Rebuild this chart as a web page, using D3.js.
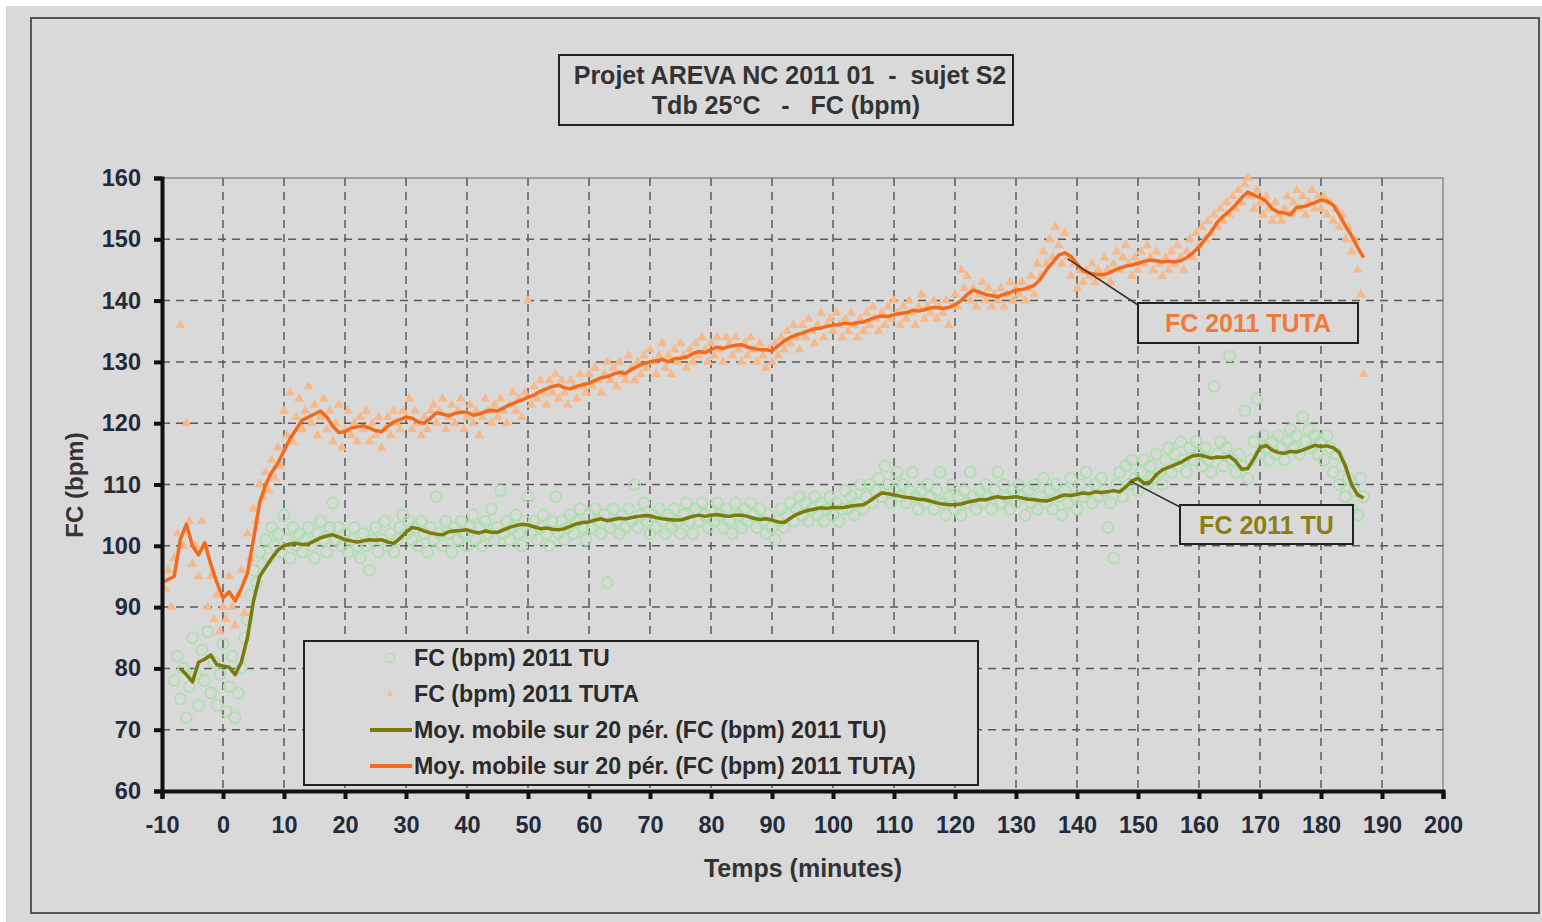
<!DOCTYPE html>
<html>
<head>
<meta charset="utf-8">
<script src="https://cdn.jsdelivr.net/npm/d3@7"></script>
<style>
  html, body { margin: 0; padding: 0; background: #fff; }
  svg { display: block; font-family: "Liberation Sans", Arial, sans-serif; font-weight: bold; }
</style>
</head>
<body>
<svg id="chart" width="1542" height="922"></svg>
<script>
// --- data ---
const xTicks = [-10, 0, 10, 20, 30, 40, 50, 60, 70, 80, 90, 100, 110, 120, 130, 140, 150, 160, 170, 180, 190, 200];
const yTicks = [60, 70, 80, 90, 100, 110, 120, 130, 140, 150, 160];

// moving average TUTA, one value per minute starting at t = -10
const maTutaStart = -10;
const maTuta = [94, 94.5, 95, 101, 103.5, 100, 98.5, 100.5, 97, 94,
  91.5, 92.5, 91, 93, 95.5, 101, 107, 110, 112, 113.5,
  115.5, 117.5, 119, 120.5, 121, 121.5, 122, 121, 119.5, 118.5,
  118.6, 119.2, 119.4, 119.6, 119.2, 118.8, 118.6, 119.5, 120.2, 120.6,
  121, 120.8, 120.2, 120, 120.8, 121.7, 121.5, 121.2, 121.6, 121.8,
  121.8, 121.3, 121.5, 121.9, 122.1, 122, 122.5, 123, 123.4, 123.8,
  124.2, 124.6, 125.2, 125.6, 126, 126.2, 125.8, 125.6, 126, 126.3,
  126.5, 127, 127.4, 127.6, 128, 128.3, 128.1, 128.8, 129.3, 129.7,
  130, 130.2, 130.4, 130, 130.5, 130.6, 130.8, 131.3, 131.7, 131.5,
  132, 132.4, 132.2, 132.5, 132.7, 132.8, 132.4, 132.2, 132, 132,
  131.8, 132.6, 133.4, 134, 134.4, 134.7, 135.1, 135.4, 135.5, 135.8,
  136, 136.1, 136.3, 136.2, 136.4, 136.5, 136.9, 137.3, 137.5, 137.4,
  137.7, 137.9, 138, 138.4, 138.3, 138.5, 138.8, 138.9, 138.7, 138.9,
  139.3, 140, 141, 141.7, 141.4, 141, 140.8, 140.6, 141, 141.3,
  141.7, 141.8, 142.1, 142.5, 143.5, 145, 146.2, 147.4, 147.8, 147.2,
  146, 144.8, 144.5, 144.3, 144.2, 144.4, 144.9, 145.3, 145.6, 145.8,
  146.1, 146.4, 146.6, 146.5, 146.3, 146.4, 146.3, 146.5, 147, 147.8,
  148.7, 150, 151.2, 152.8, 153.8, 154.6, 155.6, 156.8, 157.7, 157.2,
  156.8, 156.2, 155, 154.4, 154.3, 154, 155.2, 155.3, 155.6, 156,
  156.4, 156.2, 155.6, 154, 152.2, 150.6, 148.7, 147];

// moving average TU, one value per minute starting at t = -7
const maTuStart = -7;
const maTu = [80, 79, 77.8, 81, 81.5, 82.2, 80.6, 80.4, 80.2, 79,
  81, 85, 91, 95, 96.5, 98, 99.3, 100, 100.3, 100.4,
  100.2, 100.3, 100.8, 101.3, 101.6, 101.8, 101.4, 101, 100.8, 100.6,
  100.8, 101, 100.9, 101, 100.6, 100.4, 101.2, 102.2, 103, 102.8,
  102.4, 102.1, 101.9, 101.8, 102.3, 102.4, 102.5, 102.6, 102.3, 102.1,
  102.4, 102.2, 102.2, 102.6, 103, 103.3, 103.5, 103.4, 103.1, 102.8,
  102.9, 102.7, 102.6, 102.8, 103.2, 103.6, 103.8, 103.9, 104.2, 104.4,
  104.1, 104.3, 104.5, 104.4, 104.6, 104.8, 104.9, 104.9, 104.6, 104.4,
  104.3, 104.2, 104.2, 104.5, 104.8, 105, 104.8, 105, 105.1, 104.9,
  104.8, 105, 105, 104.8, 104.5, 104.3, 104.4, 104.2, 103.9, 103.8,
  104.5, 105.1, 105.5, 105.8, 106, 106.2, 106.1, 106.3, 106.2, 106.3,
  106.5, 106.6, 106.7, 107.3, 108, 108.6, 108.5, 108.3, 108.1, 107.9,
  107.8, 107.6, 107.5, 107.3, 107, 106.8, 106.7, 106.7, 106.8, 107.1,
  107.3, 107.5, 107.5, 107.8, 108, 107.8, 107.9, 108, 107.8, 107.6,
  107.5, 107.4, 107.3, 107.6, 108, 108.3, 108.2, 108.4, 108.6, 108.5,
  108.8, 108.7, 108.8, 109, 108.8, 109.6, 110.6, 111, 110.2, 110.4,
  111.6, 112.4, 112.8, 113.2, 113.6, 114.2, 114.7, 114.8, 114.6, 114.3,
  114.5, 114.4, 114.6, 113.8, 112.5, 112.6, 114.2, 116, 116.4, 115.6,
  115.2, 115.1, 115.4, 115.3, 115.6, 116, 116.4, 116.2, 116.3, 116,
  115.2, 113, 110, 108.3, 107.8];

// raw TUTA readings, every half minute from t = -9.5
const tutaStart = -9.5;
const tuta = [93, 96, 90, 98, 102, 136, 100, 120, 104, 97, 100, 95, 104, 100, 90, 95, 88, 92, 86, 90,
  88, 95, 90, 87, 92, 96, 89, 102, 98, 106, 104, 110, 108, 112, 109, 114, 111, 116, 113, 122,
  118, 125, 117, 121, 124, 119, 122, 126, 120, 123, 118, 121, 124, 119, 122, 117, 120, 123, 116, 119,
  122, 118, 120, 117, 121, 119, 122, 117, 120, 118, 121, 116, 119, 121, 118, 122, 120, 119, 122, 121,
  124, 119, 122, 120, 118, 121, 119, 122, 123, 120, 122, 124, 119, 121, 123, 120, 122, 124, 119, 121,
  123, 120, 122, 118, 121, 124, 122, 120, 123, 121, 124, 122, 120, 123, 125, 122, 124, 121, 125, 140,
  123, 126, 124, 127, 125, 123, 127, 125, 128, 124, 127, 125, 123, 127, 126, 124, 128, 126, 125, 128,
  126, 129, 127, 125, 128, 130, 127, 129, 126, 130, 128, 127, 131, 129, 127, 130, 128, 131, 129, 132,
  130, 128, 131, 133, 129, 131, 128, 132, 130, 133, 131, 129, 132, 130, 133, 131, 134, 132, 130, 133,
  131, 134, 132, 130, 134, 133, 131, 134, 132, 130, 133, 131, 134, 132, 130, 133, 131, 129, 132, 130,
  133, 131, 134, 132, 135, 133, 136, 134, 132, 136, 134, 137, 135, 133, 136, 138, 134, 136, 137, 135,
  138, 136, 134, 137, 135, 138, 136, 134, 137, 135, 138, 136, 139, 137, 135, 138, 136, 139, 137, 140,
  138, 136, 139, 137, 140, 138, 136, 139, 141, 137, 139, 138, 140, 137, 139, 138, 140, 136, 139, 141,
  139, 145, 142, 144, 140, 142, 139, 141, 143, 140, 142, 139, 141, 140, 142, 139, 141, 143, 140, 142,
  141, 143, 140, 142, 144, 141, 146, 144, 148, 146, 150, 147, 152, 149, 146, 151, 147, 144, 146, 142,
  145, 143, 145, 144, 146, 143, 145, 144, 147, 145, 143, 146, 148, 145, 147, 149, 146, 144, 147, 145,
  148, 146, 149, 147, 145, 148, 146, 144, 147, 145, 148, 146, 149, 147, 145, 148, 150, 147, 151, 149,
  152, 150, 153, 151, 154, 152, 155, 153, 156, 154, 157, 155, 158, 156, 159, 160, 157, 155, 158, 156,
  154, 157, 155, 153, 156, 154, 153, 155, 157, 154, 156, 158, 155, 157, 154, 156, 158, 155, 157, 155,
  157, 154, 156, 153, 155, 152, 154, 150, 152, 148, 150, 145, 141, 128];

// raw TU readings, every half minute from t = -8
const tuStart = -8;
const tu = [78, 82, 75, 80, 72, 77, 85, 79, 74, 83, 78, 86, 76, 81, 74, 79, 84, 73, 77, 82,
  72, 76, 80, 85, 88, 92, 96, 94, 99, 97, 101, 98, 103, 100, 102, 99, 105, 101, 98, 103,
  100, 102, 99, 101, 103, 100, 98, 102, 104, 101, 99, 103, 107, 101, 103, 100, 102, 99, 101, 103,
  100, 98, 102, 100, 96, 101, 103, 99, 101, 104, 100, 102, 99, 101, 103, 105, 102, 104, 101, 103,
  100, 104, 102, 99, 103, 101, 108, 102, 100, 104, 102, 99, 103, 101, 104, 102, 100, 103, 105, 101,
  103, 100, 104, 102, 106, 101, 103, 109, 102, 104, 101, 103, 105, 102, 100, 104, 108, 102, 104, 101,
  103, 105, 102, 100, 104, 108, 102, 104, 101, 103, 105, 102, 104, 106, 103, 101, 105, 103, 106, 104,
  102, 105, 94, 103, 106, 104, 102, 105, 103, 106, 104, 110, 103, 105, 107, 104, 102, 105, 103, 106,
  104, 102, 105, 103, 106, 104, 102, 105, 107, 104, 102, 106, 104, 107, 105, 103, 106, 104, 107, 105,
  103, 106, 104, 102, 107, 105, 103, 106, 104, 107, 105, 103, 106, 104, 102, 105, 103, 101, 104, 106,
  103, 105, 107, 104, 106, 108, 105, 107, 104, 106, 108, 105, 107, 104, 106, 108, 105, 107, 104, 106,
  109, 106, 108, 105, 107, 110, 106, 108, 110, 107, 109, 111, 108, 113, 110, 107, 109, 112, 108, 110,
  107, 109, 112, 108, 106, 109, 107, 110, 108, 106, 109, 112, 107, 105, 108, 110, 106, 108, 105, 109,
  107, 112, 108, 106, 109, 107, 110, 108, 106, 109, 112, 107, 110, 108, 106, 109, 107, 110, 108, 105,
  109, 107, 110, 106, 108, 111, 107, 109, 106, 110, 108, 105, 109, 107, 111, 108, 106, 110, 108, 112,
  109, 107, 110, 108, 111, 109, 103, 107, 98, 110, 112, 108, 113, 110, 114, 111, 109, 112, 114, 110,
  113, 111, 115, 112, 110, 114, 116, 112, 115, 113, 117, 114, 112, 116, 114, 117, 115, 113, 116, 114,
  112, 126, 115, 117, 113, 116, 131, 114, 112, 115, 113, 122, 111, 114, 117, 124, 115, 118, 116, 114,
  117, 115, 118, 116, 114, 117, 119, 116, 118, 115, 121, 117, 119, 116, 118, 115, 117, 114, 118, 116,
  112, 115, 110, 113, 108, 111, 106, 109, 105, 111, 108];

const legendLabels = ["FC (bpm) 2011 TU", "FC (bpm) 2011 TUTA",
  "Moy. mobile sur 20 pér. (FC (bpm) 2011 TU)", "Moy. mobile sur 20 pér. (FC (bpm) 2011 TUTA)"];

// --- styles ---
const cOrange = "#f26b1d", cOlive = "#7b7b0c";
const cTri = "#f7b98a", cCirc = "#a9e2a9";
const cText = "#232a3b";

const svg = d3.select("#chart");

// backgrounds
svg.append("rect").attr("x", 6).attr("y", 6).attr("width", 1536).attr("height", 916).attr("fill", "#d9d9d9");
svg.append("rect").attr("x", 31).attr("y", 18).attr("width", 1508).attr("height", 895)
  .attr("fill", "none").attr("stroke", "#555").attr("stroke-width", 2);

const pL = 162, pR = 1443, pT = 178, pB = 791;
const x = d3.scaleLinear().domain([-10, 200]).range([pL, pR]);
const y = d3.scaleLinear().domain([60, 160]).range([pB, pT]);

// plot frame (top/right)
svg.append("rect").attr("x", pL).attr("y", pT).attr("width", pR - pL).attr("height", pB - pT)
  .attr("fill", "none").attr("stroke", "#8a8a8a").attr("stroke-width", 1.5);

// grid
const grid = svg.append("g").attr("stroke", "#5a5a5a").attr("stroke-width", 1.5).attr("stroke-dasharray", "8,6");
grid.selectAll(".gx").data(xTicks.slice(1, -1)).enter().append("line")
  .attr("x1", d => x(d)).attr("x2", d => x(d)).attr("y1", pT).attr("y2", pB);
grid.selectAll(".gy").data(yTicks.slice(1, -1)).enter().append("line")
  .attr("y1", d => y(d)).attr("y2", d => y(d)).attr("x1", pL).attr("x2", pR);

// scatter TU (circles)
svg.append("g").selectAll("circle").data(tu).enter().append("circle")
  .attr("cx", (d, i) => x(tuStart + i * 0.5)).attr("cy", d => y(d)).attr("r", 5.5)
  .attr("fill", "none").attr("stroke", cCirc).attr("stroke-width", 1.6);

// scatter TUTA (triangles)
const tri = d3.symbol().type(d3.symbolTriangle).size(42);
svg.append("g").selectAll("path").data(tuta).enter().append("path")
  .attr("d", tri)
  .attr("transform", (d, i) => `translate(${x(tutaStart + i * 0.5)},${y(d)})`)
  .attr("fill", cTri);

// moving averages
const line = d3.line().x(d => x(d[0])).y(d => y(d[1]));
svg.append("path").datum(maTu.map((v, i) => [maTuStart + i, v]))
  .attr("d", line).attr("fill", "none").attr("stroke", cOlive).attr("stroke-width", 3.5).attr("stroke-linejoin", "round");
svg.append("path").datum(maTuta.map((v, i) => [maTutaStart + i, v]))
  .attr("d", line).attr("fill", "none").attr("stroke", cOrange).attr("stroke-width", 3.5).attr("stroke-linejoin", "round");

// axes
const xAxis = svg.append("g").attr("transform", `translate(0,${pB})`)
  .call(d3.axisBottom(x).tickValues(xTicks).tickFormat(d => String(d)).tickSize(8).tickPadding(14));
const yAxis = svg.append("g").attr("transform", `translate(${pL},0)`)
  .call(d3.axisLeft(y).tickValues(yTicks).tickFormat(d => String(d)).tickSize(8).tickPadding(13));
[xAxis, yAxis].forEach(a => {
  a.select(".domain").attr("stroke", "#111").attr("stroke-width", 4);
  a.selectAll(".tick line").attr("stroke", "#111").attr("stroke-width", 4);
  a.selectAll(".tick text").attr("fill", cText).style("font-size", "23.5px")
    .style("font-family", "Liberation Sans, Arial, sans-serif").style("font-weight", "bold");
});
xAxis.selectAll(".tick text").attr("dy", "0.85em");

// axis titles
svg.append("text").attr("x", 803).attr("y", 877).attr("text-anchor", "middle")
  .attr("fill", "#333").style("font-size", "25px").text("Temps (minutes)");
svg.append("text").attr("transform", `translate(83,485) rotate(-90)`)
  .attr("text-anchor", "middle").attr("fill", "#333").style("font-size", "24px").text("FC (bpm)");

// title box
svg.append("rect").attr("x", 559).attr("y", 55).attr("width", 454).attr("height", 70)
  .attr("fill", "none").attr("stroke", "#222").attr("stroke-width", 2);
svg.append("text").attr("x", 790).attr("y", 84).attr("text-anchor", "middle").attr("fill", "#333")
  .style("font-size", "25px").attr("xml:space", "preserve").text("Projet AREVA NC 2011 01  -  sujet S2");
svg.append("text").attr("x", 786).attr("y", 114).attr("text-anchor", "middle").attr("fill", "#333")
  .style("font-size", "25px").attr("xml:space", "preserve").text("Tdb 25°C   -   FC (bpm)");

// legend
const lg = svg.append("g");
lg.append("rect").attr("x", 304).attr("y", 641).attr("width", 674).attr("height", 144)
  .attr("fill", "#d9d9d9").attr("stroke", "#222").attr("stroke-width", 2);
const rowY = [658, 694, 730, 766];
lg.append("circle").attr("cx", 390).attr("cy", rowY[0]).attr("r", 4.5)
  .attr("fill", "none").attr("stroke", cCirc).attr("stroke-width", 1.4);
lg.append("path").attr("d", d3.symbol().type(d3.symbolTriangle).size(18))
  .attr("transform", `translate(390,${rowY[1]})`).attr("fill", cTri);
lg.append("line").attr("x1", 370).attr("x2", 412).attr("y1", rowY[2]).attr("y2", rowY[2])
  .attr("stroke", cOlive).attr("stroke-width", 4);
lg.append("line").attr("x1", 370).attr("x2", 412).attr("y1", rowY[3]).attr("y2", rowY[3])
  .attr("stroke", cOrange).attr("stroke-width", 4);
lg.selectAll(".lt").data(legendLabels).enter().append("text")
  .attr("x", 414).attr("y", (d, i) => rowY[i]).attr("dy", "0.35em")
  .attr("fill", "#2a2a2a").style("font-size", "23.2px").text(d => d);

// annotations
function callout(tx, ty, bx, by, bw, bh, label, color) {
  svg.append("line").attr("x1", x(tx)).attr("y1", y(ty)).attr("x2", bx).attr("y2", by + 2)
    .attr("stroke", "#333").attr("stroke-width", 1.5);
  svg.append("rect").attr("x", bx).attr("y", by).attr("width", bw).attr("height", bh)
    .attr("fill", "#d9d9d9").attr("stroke", "#222").attr("stroke-width", 2);
  svg.append("text").attr("x", bx + bw / 2).attr("y", by + bh / 2).attr("dy", "0.36em")
    .attr("text-anchor", "middle").attr("fill", color).style("font-size", "25px").text(label);
}
callout(138.5, 146.8, 1138, 303, 220, 40, "FC 2011 TUTA", "#f07a3a");
callout(148.8, 110.5, 1180, 505, 173, 39, "FC 2011 TU", "#8c7e14");
</script>
</body>
</html>
